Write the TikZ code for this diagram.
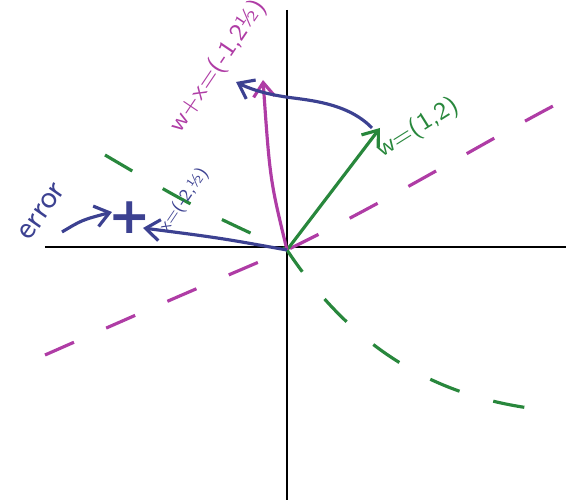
\documentclass[tikz,border=0pt]{standalone}
\usepackage{fontspec}
\newfontfamily\plusfont{DejaVu Sans}
\usetikzlibrary{arrows.meta}
\definecolor{pgreen}{RGB}{40,135,60}
\definecolor{ppurple}{RGB}{175,60,165}
\definecolor{pblue}{RGB}{60,65,145}
\tikzset{
  axis/.style={black, line width=0.7pt},
  vec/.style={line width=0.9pt, -{Straight Barb[length=4pt,width=6pt]}},
  dashline/.style={line width=0.9pt, dash pattern=on 9pt off 10pt},
  hand/.style={font=\sffamily\scriptsize, inner sep=1pt}
}
\begin{document}
\begin{tikzpicture}[x=0.01cm,y=-0.01cm]
\useasboundingbox (0,0) rectangle (569,504);
% axes
\coordinate (xl) at (45,247);
\coordinate (xr) at (566,247);
\coordinate (yt) at (287,10);
\coordinate (yb) at (287,500);
\coordinate (o) at (287,250);
\draw[axis] (xl) -- (xr);
\draw[axis] (yt) -- (yb);
% dashed lines
\coordinate (g1) at (105,155);
\coordinate (g2) at (545,410);
\coordinate (p1) at (45,355);
\coordinate (p2) at (555,105);
\draw[dashline, pgreen] (g1) .. controls (190,205) .. (o) .. controls (360,360) and (450,400) .. (g2);
\draw[dashline, ppurple] (p1) .. controls (170,300) .. (o) .. controls (390,200) and (470,150) .. (p2);
% vectors
\coordinate (wt) at (380,128);
\coordinate (st) at (263,80);
\coordinate (xt) at (143,228);
\draw[vec, pgreen] (o) -- (wt);
\draw[vec, ppurple] (o) .. controls (270,180) .. (st);
\draw[vec, pblue] (o) .. controls (220,238) .. (xt);
\draw[vec, pblue] (372,128) .. controls (345,100) and (300,100) .. (280,96) .. controls (262,93) and (248,88) .. (236,82);
% labels
\node[hand, pgreen, rotate=32] (wl) at (418,128) {w=(1,2)};
\node[hand, ppurple, rotate=56] (sl) at (218,66) {w+x=(-1,2½)};
\node[hand, pblue, rotate=56, font=\sffamily\tiny] (xlab) at (184,200) {x=(-2,½)};
\node[pblue, font=\plusfont\bfseries\Large] (plus) at (130,218) {+};
\node[pblue, font=\sffamily\small, rotate=55, inner sep=1pt] (err) at (42,212) {error};
\draw[vec, pblue] (62,232) .. controls (82,220) .. (112,212);
\end{tikzpicture}
\end{document}
